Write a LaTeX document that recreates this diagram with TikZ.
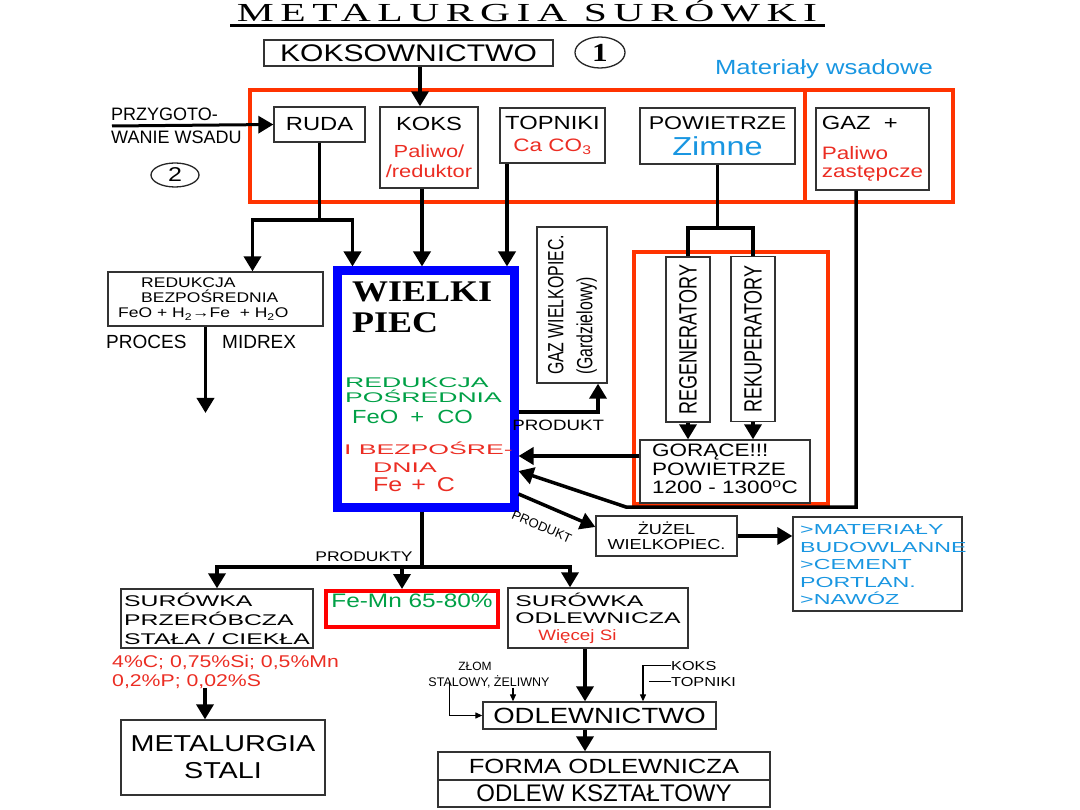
\documentclass[tikz,border=0pt]{standalone}
\usepackage{fontspec}
\usepackage{graphicx}
\setmainfont{Liberation Sans}[FakeStretch=1.25]
\newfontfamily\plainfont{Liberation Sans}
\newfontfamily\widefont{Liberation Sans}[FakeStretch=1.6]
\newfontfamily\xwidefont{Liberation Sans}[FakeStretch=1.9]
\newfontfamily\condfont{Liberation Sans}[FakeStretch=0.72]
\newfontfamily\piecfont{Liberation Serif}[FakeStretch=1.2]
\newfontfamily\ttlfont{Liberation Serif}[FakeStretch=1.6,LetterSpace=25]
\usetikzlibrary{arrows.meta,shapes.geometric}
\definecolor{grpred}{RGB}{255,51,0}
\definecolor{piecblue}{RGB}{0,0,255}
\definecolor{femnred}{RGB}{255,0,0}
\definecolor{txtred}{RGB}{235,45,35}
\definecolor{txtgreen}{RGB}{0,160,70}
\definecolor{txtblue}{RGB}{25,150,225}
\newcommand{\fsz}[2]{\fontsize{#1}{#2}\selectfont}
\tikzset{
  box/.style={draw=black!80,line width=1.3pt,inner sep=0pt},
  oval/.style={ellipse,draw=black!85,line width=1.3pt,inner sep=0pt},
  grpframe/.style={draw=grpred,line width=4pt},
  lbl/.style={inner sep=0pt},
  ln/.style={line width=3.5pt},
  fl/.style={ln,-{Triangle[length=15pt,width=17pt]}},
  thinln/.style={line width=1.2pt},
  thinfl/.style={thinln,-{Triangle[length=7pt,width=6pt]}},
}

\begin{document}
\begin{tikzpicture}[x=1pt,y=-1pt]
  \useasboundingbox (0,0) rectangle (1080,810);

  % naglowek
  \node[lbl,anchor=base,font=\ttlfont\fsz{26}{28}] (title) at (527,22) {METALURGIA SURÓWKI};
  \draw[line width=3pt] (230,26) -- (825,26);
  \node[box,minimum width=289,minimum height=26,font=\fsz{24}{26}] (koksown) at (408.5,53) {KOKSOWNICTWO};
  \node[oval,minimum width=50,minimum height=31,font=\piecfont\bfseries\fsz{26}{28}] (n1) at (600,52.5) {1};
  \node[lbl,text=txtblue,font=\fsz{20.5}{22}] (matw) at (824,69) {Materiały wsadowe};

  % materialy wsadowe
  \draw[grpframe] (250,90) rectangle (805,202);
  \draw[grpframe] (805,90) rectangle (953,202);
  \node[box,minimum width=91,minimum height=35,font=\fsz{19}{21}] (ruda) at (319.5,124.5) {RUDA};
  \node[box,minimum width=98,minimum height=81,align=center,font=\fsz{19}{20}] (koks) at (429,147.5)
    {KOKS\\[7pt]\color{txtred}\fsz{17.5}{20}Paliwo/\\\color{txtred}\fsz{17.5}{20}/reduktor};
  \node[box,minimum width=105,minimum height=55,align=center,font=\fsz{19}{22}] (topn) at (552.5,135.5)
    {TOPNIKI\\\color{txtred}\fsz{18}{20}Ca CO\textsubscript{3}};
  \node[box,minimum width=155,minimum height=56,align=center,font=\fsz{18.5}{26}] (powz) at (717.5,136)
    {POWIETRZE\\\color{txtblue}\fsz{26}{28}Zimne};
  \node[box,minimum width=113,minimum height=82,align=left,font=\fsz{19}{18}] (gaz) at (872.5,149)
    {GAZ \ +\\[12pt]\color{txtred}\fsz{18}{18}Paliwo\\\color{txtred}\fsz{18}{18}zastępcze};
  \node[lbl,anchor=base west,font=\plainfont\fsz{18}{20}] (przyg) at (111,120.5) {PRZYGOTO-};
  \node[lbl,anchor=base west,font=\plainfont\fsz{18}{20}] (wsadu) at (111,144) {WANIE WSADU};
  \coordinate (przs) at (112,126);
  \node[oval,minimum width=48,minimum height=24,font=\fsz{20}{22}] (n2) at (175,175) {2};

  % wielki piec
  \node[draw=piecblue,line width=9pt,minimum width=177,minimum height=236,inner sep=0pt] (piec) at (425.5,389) {};
  \node[lbl,anchor=base west,font=\piecfont\bfseries\fsz{30}{32}] (wp1) at (352,302) {WIELKI};
  \node[lbl,anchor=base west,font=\piecfont\bfseries\fsz{30}{32}] (wp2) at (352,333) {PIEC};
  \node[lbl,anchor=base west,text=txtgreen,font=\xwidefont\fsz{14}{16}] (g1) at (345,387.5) {REDUKCJA};
  \node[lbl,anchor=base west,text=txtgreen,font=\xwidefont\fsz{14}{16}] (g2) at (345,402.5) {POŚREDNIA};
  \node[lbl,anchor=base west,text=txtgreen,font=\fsz{19}{21}] (g3) at (352,424) {FeO\hspace{12pt}+\hspace{13pt}CO};
  \node[lbl,anchor=base west,text=txtred,font=\xwidefont\fsz{14}{16}] (r1) at (344,455) {I BEZPOŚRE-};
  \node[lbl,anchor=base west,text=txtred,font=\xwidefont\fsz{14}{16}] (r2) at (373,473) {DNIA};
  \node[lbl,anchor=base west,text=txtred,font=\fsz{20}{22}] (r3) at (373,492) {Fe\hspace{9pt}+\hspace{11pt}C};

  % redukcja bezposrednia
  \node[box,minimum width=215,minimum height=54] (redb) at (215.5,299) {};
  \node[lbl,anchor=north west,align=left,font=\fsz{14}{15}] (redbt) at (118,278)
    {\hspace*{23pt}REDUKCJA\\\hspace*{23pt}BEZPOŚREDNIA\\FeO + H\textsubscript{2}→Fe \ + H\textsubscript{2}O};
  \node[lbl,anchor=base west,font=\plainfont\fsz{19}{21}] (proc) at (106,349) {PROCES};
  \node[lbl,anchor=base west,font=\plainfont\fsz{19}{21}] (midr) at (222,349) {MIDREX};
  \coordinate (midx) at (205.5,413);

  % gaz wielkopiecowy
  \node[box,minimum width=70,minimum height=156] (gazwp) at (572,305)
    {\rotatebox{90}{\condfont\fsz{22}{29}\begin{tabular}{@{}l@{}}GAZ WIELKOPIEC.\\(Gardzielowy)\end{tabular}}};

  % nagrzewnice
  \draw[grpframe] (634,252) rectangle (828,504);
  \node[box,minimum width=44,minimum height=165] (regen) at (688,339.5) {\rotatebox{90}{\condfont\fsz{25}{27}REGENERATORY}};
  \node[box,minimum width=44,minimum height=165] (rekup) at (753,339) {\rotatebox{90}{\condfont\fsz{25}{27}REKUPERATORY}};
  \node[box,minimum width=170,minimum height=63] (gor) at (725,471.5) {};
  \node[lbl,anchor=north west,align=left,font=\fsz{18}{18.5}] (gort) at (652,444)
    {GORĄCE!!!\\POWIETRZE\\1200 - 1300\textsuperscript{o}C};
  \coordinate (gk) at (626,507);

  % zuzel
  \node[box,minimum width=141,minimum height=40,align=center,font=\fsz{14.5}{15.5}] (zuzel) at (666.5,536) {ŻUŻEL\\WIELKOPIEC.};
  \node[box,minimum width=169,minimum height=94] (budow) at (877.5,564) {};
  \node[lbl,anchor=north west,align=left,text=txtblue,font=\widefont\fsz{14.5}{17.5}] (budowt) at (800,524.5)
    {>MATERIAŁY\\BUDOWLANNE\\>CEMENT\\PORTLAN.\\>NAWÓZ};

  % produkty
  \node[lbl,anchor=base,font=\fsz{14}{16}] (prodk) at (364,561) {PRODUKTY};
  \node[box,minimum width=192,minimum height=59,align=left,font=\widefont\fsz{15.5}{19}] (przer) at (217,618.5)
    {SURÓWKA\\PRZERÓBCZA\\STAŁA / CIEKŁA};
  \node[draw=femnred,line width=4pt,minimum width=172,minimum height=36,inner sep=0pt,text=txtgreen,
    text depth=16pt,font=\fsz{19.5}{21}] (femn) at (412,609) {Fe-Mn 65-80\%};
  \node[box,minimum width=180,minimum height=60,align=left,font=\widefont\fsz{15.5}{17}] (odlew) at (598,618)
    {SURÓWKA\\ODLEWNICZA\\\hspace*{23pt}\normalfont\color{txtred}\fsz{15}{17}Więcej Si};
  \node[lbl,anchor=north west,align=left,text=txtred,font=\fsz{17}{19}] (chem) at (112,654.5)
    {4\%C; 0,75\%Si; 0,5\%Mn\\0,2\%P; 0,02\%S};
  \node[box,minimum width=204,minimum height=75,align=center,font=\fsz{23}{27}] (stali) at (223,757.5) {METALURGIA\\STALI};

  % odlewnictwo
  \node[box,minimum width=233,minimum height=27,font=\fsz{22}{24}] (odlewn) at (599.5,715.5) {ODLEWNICTWO};
  \node[lbl,anchor=base,font=\plainfont\fsz{12}{14}] (zlom) at (475,670) {ZŁOM};
  \node[lbl,anchor=base,font=\plainfont\fsz{12.5}{14}] (stal) at (489,686) {STALOWY, ŻELIWNY};
  \node[lbl,anchor=base west,font=\fsz{13}{15}] (koks2) at (671,670) {KOKS};
  \node[lbl,anchor=base west,font=\fsz{13}{15}] (topn2) at (671,686) {TOPNIKI};
  \node[box,minimum width=332,minimum height=28,font=\fsz{20.5}{22}] (forma1) at (604,766) {FORMA ODLEWNICZA};
  \node[box,minimum width=332,minimum height=27,font=\plainfont\fsz{24}{26}] (forma2) at (604,793.5) {ODLEW KSZTAŁTOWY};

  % polaczenia
  \draw[fl] ([xshift=-9]koks.north |- koksown.south) -- ([xshift=-9]koks.north);
  \draw[fl,line width=3pt] (przs) -- (ruda.west);
  \draw[ln] (ruda.south) -- (ruda.south |- 0,220) coordinate (jr);
  \draw[fl] (jr) -| ([xshift=37]redb.north);
  \draw[fl] (jr) -| ([xshift=-73]piec.north);
  \draw[fl] ([xshift=-7]koks.south) -- ([xshift=-7]koks.south |- piec.north);
  \draw[fl] ([xshift=-45.5]topn.south) -- ([xshift=-45.5]topn.south |- piec.north);
  \draw[fl] ([xshift=-10]redb.south) -- (midx);
  \draw[ln] (powz.south) -- (powz.south |- 0,228) coordinate (jp);
  \draw[ln] (regen.north) |- (jp) -| (rekup.north);
  \draw[fl] (regen.south) -- (regen.south |- gor.north);
  \draw[fl] (rekup.south) -- (rekup.south |- gor.north);
  \draw[fl] (gor.west |- 0,456) -- (piec.east |- 0,456);
  \draw[fl] ([xshift=-16.5]gaz.south) |- (gk) -- (piec.east |- 0,471);
  \draw[fl] (piec.east |- 0,412) -| node[pos=0.25,below=3pt,font=\fsz{15}{17}] {PRODUKT} ([xshift=26]gazwp.south);
  \draw[fl] (piec.east |- 0,494) -- node[sloped,pos=0.41,below=11pt,font=\plainfont\fsz{13}{15}] {PRODUKT} ([yshift=9]zuzel.west);
  \draw[fl] (zuzel.east) -- (zuzel.east -| budow.west);
  \draw[ln] ([xshift=-3.5]piec.south) -- ([xshift=-3.5]piec.south |- 0,567) coordinate (jd);
  \draw[fl] (jd) -| (przer.north);
  \draw[fl] (jd) -| ([xshift=-10]femn.north);
  \draw[fl] (jd) -| ([xshift=-28]odlew.north);
  \draw[fl] ([xshift=-18]stali.north |- chem.south) -- ([xshift=-18]stali.north);
  \draw[fl] ([xshift=-13]odlew.south) -- ([xshift=-13]odlew.south |- odlewn.north);
  \draw[fl] ([xshift=-14.5]odlewn.south) -- ([xshift=-14.5]odlewn.south |- forma1.north);
  \draw[thinfl] ([xshift=-86.5]odlewn.north |- stal.south) -- ([xshift=-86.5]odlewn.north);
  \draw[thinfl] ([xshift=21]stal.west) |- (odlewn.west);
  \draw[thinfl] (koks2.west) -| ([xshift=43.5]odlewn.north);
  \draw[thinln] (topn2.west) -- ([xshift=-22]topn2.west);
\end{tikzpicture}
\end{document}
